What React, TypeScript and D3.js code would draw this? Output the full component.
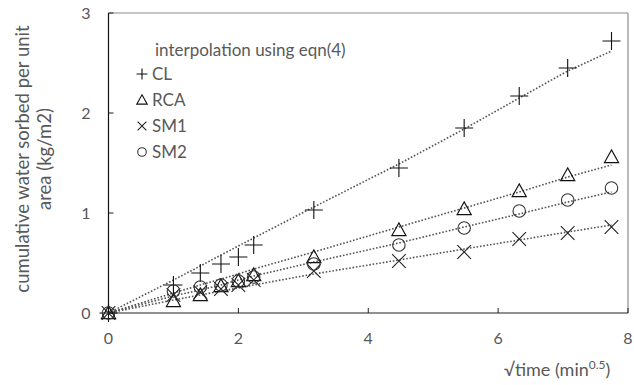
import React from "react";
import * as d3 from "d3";

// sqrt(time) values, min^0.5
const xs = [0, 1, 1.414, 1.732, 2, 2.236, 3.162, 4.472, 5.477, 6.325, 7.071, 7.746];

const clVals = [0, 0.28, 0.4, 0.49, 0.56, 0.68, 1.03, 1.45, 1.85, 2.17, 2.45, 2.72];
const rcaVals = [0, 0.12, 0.18, 0.27, 0.32, 0.38, 0.56, 0.83, 1.04, 1.22, 1.38, 1.56];
const sm1Vals = [0, 0.18, 0.21, 0.24, 0.28, 0.33, 0.42, 0.52, 0.61, 0.74, 0.8, 0.86];
const sm2Vals = [0, 0.22, 0.26, 0.28, 0.32, 0.36, 0.49, 0.68, 0.85, 1.02, 1.13, 1.25];

// interpolated (eqn 4) curves
const clFit = [0, 0.33, 0.47, 0.58, 0.67, 0.75, 1.06, 1.49, 1.84, 2.15, 2.42, 2.62];
const rcaFit = [0, 0.2, 0.28, 0.34, 0.39, 0.44, 0.61, 0.86, 1.05, 1.21, 1.36, 1.48];
const sm1Fit = [0, 0.13, 0.18, 0.22, 0.25, 0.28, 0.39, 0.53, 0.64, 0.73, 0.81, 0.88];
const sm2Fit = [0, 0.17, 0.23, 0.28, 0.33, 0.37, 0.51, 0.7, 0.86, 0.99, 1.11, 1.21];

const xTicks = [0, 2, 4, 6, 8];
const yTicks = [0, 1, 2, 3];
const legendNames = ["CL", "RCA", "SM1", "SM2"];

const font = "Lato, 'Open Sans', sans-serif";
const textCol = "#595959";

function Marker({ kind, x, y, s }: { kind: string; x: number; y: number; s: number }) {
  const h = s / 2;
  if (kind === "CL")
    return <path d={`M${x - h},${y}H${x + h}M${x},${y - h}V${y + h}`} stroke="#111" strokeWidth={1.1} fill="none" />;
  if (kind === "RCA")
    return (
      <path
        d={`M${x},${y - h * 0.95}L${x + h * 0.95},${y + h * 0.75}L${x - h * 0.95},${y + h * 0.75}Z`}
        stroke="#111"
        strokeWidth={1.1}
        fill="none"
      />
    );
  if (kind === "SM1") {
    const k = h * 0.8;
    return <path d={`M${x - k},${y - k}L${x + k},${y + k}M${x + k},${y - k}L${x - k},${y + k}`} stroke="#222" strokeWidth={1.1} fill="none" />;
  }
  return <circle cx={x} cy={y} r={h * 0.78} stroke="#333" strokeWidth={1.1} fill="none" />;
}

export default function App() {
  const W = 634;
  const H = 385;
  const x = d3.scaleLinear().domain([0, 8]).range([108.5, 628]);
  const y = d3.scaleLinear().domain([0, 3]).range([313, 13]);

  const series = [
    { name: "CL", vals: clVals, fit: clFit, size: 18 },
    { name: "RCA", vals: rcaVals, fit: rcaFit, size: 15 },
    { name: "SM1", vals: sm1Vals, fit: sm1Fit, size: 17 },
    { name: "SM2", vals: sm2Vals, fit: sm2Fit, size: 16 },
  ];

  const line = d3
    .line<number>()
    .x((_, i) => x(xs[i]))
    .y((d) => y(d));

  return (
    <svg width={W} height={H} style={{ position: "absolute", left: 0, top: 0, background: "#fff" }}>
      {/* plot frame */}
      <line x1={x(8)} x2={x(8)} y1={y(3)} y2={y(0)} stroke="#8c8c8c" strokeWidth={1.2} />
      <line x1={x(0)} x2={x(8)} y1={y(3)} y2={y(3)} stroke="#8c8c8c" strokeWidth={1.2} />
      <line x1={x(0)} x2={x(8)} y1={y(0)} y2={y(0)} stroke="#222" strokeWidth={1.2} />
      <line x1={x(0)} x2={x(0)} y1={y(3)} y2={y(0)} stroke="#111" strokeWidth={1.2} />

      {xTicks.map((t) => (
        <g key={"xt" + t}>
          <line x1={x(t)} x2={x(t)} y1={y(0)} y2={y(0) - 5} stroke="#222" />
          <text x={x(t)} y={344} textAnchor="middle" fontFamily={font} fontSize={16} fill={textCol}>
            {t}
          </text>
        </g>
      ))}
      {yTicks.map((t) => (
        <g key={"yt" + t}>
          <line x1={x(0)} x2={x(0) + 5} y1={y(t)} y2={y(t)} stroke="#222" />
          <text x={86} y={y(t) + 5.5} textAnchor="middle" fontFamily={font} fontSize={16} fill={textCol}>
            {t}
          </text>
        </g>
      ))}

      {/* fitted curves */}
      {series.map((s) => (
        <path
          key={"f" + s.name}
          d={line(s.fit) || ""}
          fill="none"
          stroke="#555"
          strokeWidth={1.6}
          strokeDasharray="1.6,1.8"
        />
      ))}

      {/* measured points */}
      {series.map((s) => (
        <g key={"p" + s.name}>
          {s.vals.map((v, i) => (
            <Marker key={i} kind={s.name} x={x(xs[i])} y={y(v)} s={s.size} />
          ))}
        </g>
      ))}

      {/* legend */}
      <text x={155} y={56} fontFamily={font} fontSize={17} fill={textCol}>
        interpolation using eqn(4)
      </text>
      {legendNames.map((n, i) => (
        <g key={"lg" + n}>
          <Marker kind={n} x={142} y={74 + i * 26} s={11} />
          <text x={152} y={80 + i * 26} fontFamily={font} fontSize={17} fill={textCol}>
            {n}
          </text>
        </g>
      ))}

      {/* axis titles */}
      <text
        transform="translate(29,159) rotate(-90)"
        textAnchor="middle"
        fontFamily={font}
        fontSize={18.5}
        fill={textCol}
      >
        cumulative water sorbed per unit
      </text>
      <text
        transform="translate(46,159) rotate(-90)"
        textAnchor="middle"
        fontFamily={font}
        fontSize={18.5}
        fill={textCol}
        dominantBaseline="middle"
      >
        area (kg/m2)
      </text>
      <text x={557} y={376} textAnchor="middle" fontFamily={font} fontSize={18} fill={textCol}>
        √time (min
        <tspan fontSize={12} dy={-7}>
          0.5
        </tspan>
        <tspan dy={7}>)</tspan>
      </text>
    </svg>
  );
}
